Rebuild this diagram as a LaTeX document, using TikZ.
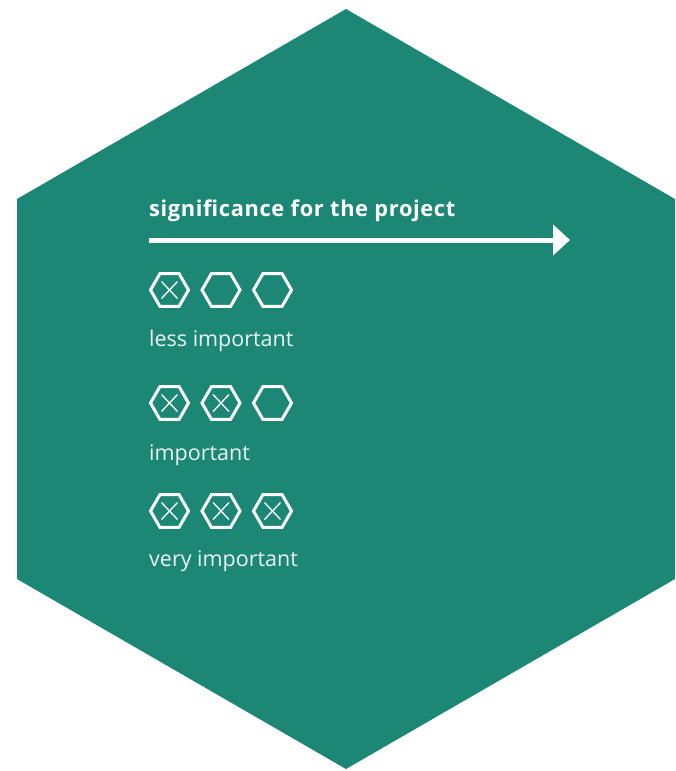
\documentclass[tikz,border=0pt]{standalone}
\usepackage{fontspec}
\setmainfont{Open Sans}
\usetikzlibrary{shapes.geometric,arrows.meta}
\definecolor{hexteal}{HTML}{1D8775}
\definecolor{labelwhite}{HTML}{EAF4F1}
\begin{document}
\begin{tikzpicture}[x=1pt,y=-1pt,
  hexicon/.style={draw=white, line width=3pt, regular polygon, regular polygon sides=6, minimum size=38pt, inner sep=0pt, outer sep=0pt},
  crossline/.style={draw=white, line width=1.3pt},
  titletext/.style={anchor=base west, inner sep=0pt, text=white, font=\bfseries\fontsize{21.8}{25}\selectfont\addfontfeature{LetterSpace=3}},
  labeltext/.style={anchor=base west, inner sep=0pt, text=labelwhite, font=\fontsize{21.5}{25}\selectfont}]
\useasboundingbox (0,0) rectangle (675,771);
\fill[hexteal] (346,9) -- (675,199) -- (675,579) -- (346,769) -- (17,579) -- (17,199) -- cycle;
\node[titletext] (title) at (149,216) {significance for the project};
\coordinate (a0) at (149,240);
\coordinate (a1) at (570,240);
\draw[white, line width=5pt, -{Triangle[length=17pt,width=30pt]}] (a0) -- (a1);
% icons
\foreach \r/\y/\n in {1/290/1, 2/403/2, 3/511/3}{
  \foreach \c/\x in {1/169.5, 2/221, 3/272.5}{
    \node[hexicon] (h\r\c) at (\x,\y) {};
    \ifnum\c>\n\relax\else
      \draw[crossline] ([shift={(-8,-8.5)}]h\r\c.center) -- ([shift={(8,8.5)}]h\r\c.center);
      \draw[crossline] ([shift={(-8,8.5)}]h\r\c.center) -- ([shift={(8,-8.5)}]h\r\c.center);
    \fi
  }
}
\node[labeltext] (l1) at (149,346) {less important};
\node[labeltext] (l2) at (149,460) {important};
\node[labeltext] (l3) at (149,566) {very important};
\end{tikzpicture}
\end{document}
